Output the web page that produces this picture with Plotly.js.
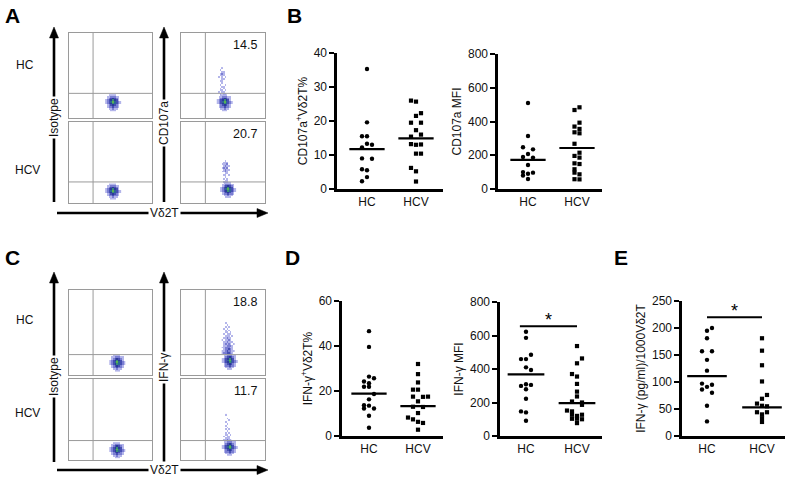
<!DOCTYPE html>
<html><head><meta charset="utf-8">
<script src="https://cdn.plot.ly/plotly-3.0.1.min.js"></script>
<style>html,body{margin:0;padding:0;background:#fff}</style>
</head><body><div id="chart" style="width:787px;height:481px"></div>
<script>
// ---------- DATA ----------
const groups = ['HC', 'HCV'];

// B: CD107a+ Vd2T %
const cd107Pct_HC = [35.3, 19.6, 15.5, 15.5, 13.3, 13.0, 12.2, 9.0, 8.9, 5.8, 5.5, 3.5, 2.3];
const cd107Pct_HC_col = [0, 0, -1, 0, 0, 1, -1, -1, 1, -1, 0, 0, -1];
const cd107Pct_HCV = [26.0, 25.7, 22.3, 21.5, 19.5, 19.5, 17.3, 16.0, 15.4, 13.2, 13.0, 13.1, 10.4, 10.4, 6.2, 5.2, 2.2];
const cd107Pct_HCV_col = [-1, 0, 1, 0, -1, 1, 0, 1, -1, -1, 0, 1, 0, 1, -1, 0, 0];
const cd107Pct_med = [11.7, 14.9];

// B: CD107a MFI
const cd107Mfi_HC = [510, 314, 247, 235, 207, 190, 186, 142, 100, 97, 90, 80, 59];
const cd107Mfi_HC_col = [0, 0, -1, 1, 0, -1, 1, 0, -1, 1, 0, -1, 0];
const cd107Mfi_HCV = [484, 468, 393, 370, 356, 336, 330, 268, 215, 196, 186, 152, 148, 117, 97, 87, 58, 57];
const cd107Mfi_HCV_col = [0.5, -0.5, 0.5, -0.5, 0.5, -0.5, 0.5, -0.5, 0.5, -0.5, 0.5, -0.5, 0.5, -0.5, -0.5, 0.5, -0.5, 0.5];
const cd107Mfi_med = [172, 243];

// D: IFN-g+ Vd2T %
const ifnPct_HC = [46.6, 39.6, 26.4, 25.7, 24.2, 23.5, 21.9, 21.9, 18.7, 16.3, 13.7, 13.5, 12.2, 12.2, 9.0, 3.7];
const ifnPct_HC_col = [0, 0, 0, 1, -1, 0, -1, 0, 1, 0, -1, 0, 1, -1, 0, 0];
const ifnPct_HCV = [32.0, 27.5, 23.8, 20.6, 20.6, 17.5, 17.4, 17.5, 15.4, 13.0, 12.9, 10.2, 8.2, 7.4, 6.3, 5.8, 2.8];
const ifnPct_HCV_col = [0, 0, 0, -1, 0, -1, 1, 2, 0, -1, 1, 0, -2, -1, 0, 1, 0];
const ifnPct_med = [18.8, 13.3];

// D: IFN-g MFI
const ifnMfi_HC = [622, 586, 485, 459, 459, 410, 394, 309, 305, 299, 279, 222, 147, 141, 91];
const ifnMfi_HC_col = [0, 0, 1, -1, 0, 0, 1, 0, 1, -1, 0, 0, -1, 0, 0];
const ifnMfi_HCV = [537, 463, 434, 370, 355, 311, 265, 236, 206, 200, 186, 152, 147, 127, 120, 127, 103, 103, 100, 77];
const ifnMfi_HCV_col = [0, 1, 0, -1, 0, 0, 0, 0, -1, 1, 1, -2, -1, -1, 0, 1, -1, 0, 1, 0];
const ifnMfi_med = [368, 196];
const ifnMfi_sig = 655;

// E: IFN-g (pg/ml)/1000 Vd2T
const ifnConc_HC = [200, 195, 181, 157, 157, 141, 121, 97, 95, 91, 86, 80, 56, 27];
const ifnConc_HC_col = [1, 0, 0, -1, 1, 0, 0, -1, 1, 0, -1, 1, 0, 0];
const ifnConc_HCV = [181, 158, 131, 101, 76, 69, 60, 56, 55, 44, 44, 40, 33, 26];
const ifnConc_HCV_col = [0, 0, 0, 0, 1, 0, -1, 0, 1, -1, 1, 0, 0, 0];
const ifnConc_med = [111, 53];
const ifnConc_sig = 220;

// Flow cytometry (A and C): gates (% of axis), population centres, density grids
const flowPercent = ['14.5', '20.7', '18.8', '11.7'];
const gateX = [29, 29, 29, 29, 29, 29, 29, 29];
const gateY = [29, 26, 29, 26, 24, 24, 24, 24];
const popX = [53, 53, 52, 56, 58, 58, 58, 58];
const popY = [18, 14, 18, 16, 14, 12, 16, 15];
const coreDensity = [
  [0,0,0,1,1,1,0,0,0],
  [0,0,1,1,2,1,1,0,0],
  [0,1,2,2,3,2,2,1,0],
  [0,1,2,3,4,3,2,1,0],
  [1,2,3,4,6,5,3,2,1],
  [1,2,3,5,7,5,3,2,1],
  [1,2,3,4,6,4,3,1,0],
  [0,1,2,3,4,3,2,1,0],
  [0,1,1,2,2,2,1,1,0],
  [0,0,1,1,1,1,0,0,0]
];
const tailA_HC = [
  [0,0,1,0,1,1,0,0],[0,1,0,1,1,0,0,0],[0,0,1,1,0,1,0,0],[0,0,1,0,1,0,0,0],[0,0,0,1,1,0,0,0],
  [0,0,1,0,0,1,0,0],[0,0,0,1,0,0,0,0],[0,0,1,1,0,0,0,0],[0,0,0,1,1,0,0,0],[0,1,0,1,0,1,0,0],
  [0,0,1,1,1,0,0,0],[0,0,1,2,1,0,0,0],[0,0,0,1,1,0,0,0],[0,0,1,0,0,0,0,0],[0,0,0,1,0,0,0,0]
];
const tailA_HCV = [
  [0,0,1,1,1,0,0,0],[0,0,0,1,1,0,0,0],[0,0,1,0,1,0,0,0],[0,0,0,1,0,0,0,0],[0,0,1,1,0,1,0,0],
  [0,0,0,1,1,0,0,0],[0,1,1,2,1,0,0,0],[0,0,1,2,1,1,0,0],[0,1,2,1,2,0,0,0],[0,0,1,2,1,1,0,0],
  [0,1,1,1,2,0,0,0],[0,0,1,1,1,0,0,0],[0,0,0,1,0,0,0,0],[0,0,0,0,0,0,0,0],[0,0,0,0,0,0,0,0]
];
const tailC_HC = [
  [1,2,2,3,3,2,1,0],[1,1,2,3,2,2,1,1],[0,1,2,2,3,2,1,0],[1,1,2,2,2,1,1,0],[0,1,1,2,2,2,1,0],
  [0,1,2,1,2,1,0,1],[0,1,1,2,1,1,1,0],[1,0,1,1,2,1,0,0],[0,1,1,2,1,1,0,0],[0,0,1,1,1,0,1,0],
  [0,1,0,1,1,1,0,0],[0,0,1,1,0,1,0,0],[0,0,1,0,1,0,0,0],[0,1,0,1,0,0,0,0],[0,0,1,0,1,0,0,0],
  [0,0,0,1,0,0,0,0],[0,0,1,0,0,0,0,0]
];
const tailC_HCV = [
  [0,1,1,2,1,1,0,0],[0,0,1,1,1,0,0,0],[0,1,0,1,1,0,0,0],[0,0,1,1,0,1,0,0],[0,0,1,0,1,0,0,0],
  [0,0,0,1,0,0,0,0],[0,0,1,0,1,0,0,0],[0,0,0,1,0,0,0,0],[0,0,1,0,0,0,0,0],[0,0,0,1,0,0,0,0],
  [0,0,1,0,0,0,0,0],[0,0,0,0,1,0,0,0],[0,0,0,1,0,0,0,0],[0,0,0,0,0,0,0,0],[0,0,1,0,0,0,0,0]
];

// ---------- LAYOUT HELPERS ----------
const W = 787, H = 481;
const PX = x => x / W;
const PY = y => 1 - y / H;
const FONT = 'Liberation Sans, Arial, sans-serif';

const traces = [];
const layout = {
  width: W, height: H,
  margin: {l: 0, r: 0, t: 0, b: 0},
  paper_bgcolor: '#fff', plot_bgcolor: 'rgba(0,0,0,0)',
  showlegend: false,
  font: {family: FONT, size: 12, color: '#111'},
  shapes: [], annotations: []
};

// scatter panels
const panels = [
  {hc: cd107Pct_HC, hcC: cd107Pct_HC_col, hcv: cd107Pct_HCV, hcvC: cd107Pct_HCV_col, med: cd107Pct_med,
   box: [337, 443, 53, 189], cat: [367, 416], ymax: 40, dtick: 10, title: 'CD107a<sup>+</sup>Vδ2T%'},
  {hc: cd107Mfi_HC, hcC: cd107Mfi_HC_col, hcv: cd107Mfi_HCV, hcvC: cd107Mfi_HCV_col, med: cd107Mfi_med,
   box: [498, 602, 54, 189], cat: [528, 577], ymax: 800, dtick: 200, title: 'CD107a MFI'},
  {hc: ifnPct_HC, hcC: ifnPct_HC_col, hcv: ifnPct_HCV, hcvC: ifnPct_HCV_col, med: ifnPct_med,
   box: [342, 443, 301, 436], cat: [369, 418], ymax: 60, dtick: 20, title: 'IFN-γ<sup>+</sup>Vδ2T%'},
  {hc: ifnMfi_HC, hcC: ifnMfi_HC_col, hcv: ifnMfi_HCV, hcvC: ifnMfi_HCV_col, med: ifnMfi_med, sig: ifnMfi_sig, sigX: [-0.12, 1.0],
   box: [500, 602, 302, 436], cat: [526, 577], ymax: 800, dtick: 200, title: 'IFN-γ MFI'},
  {hc: ifnConc_HC, hcC: ifnConc_HC_col, hcv: ifnConc_HCV, hcvC: ifnConc_HCV_col, med: ifnConc_med, sig: ifnConc_sig, sigX: [0, 1.0],
   box: [682, 785, 301, 436], cat: [707, 762], ymax: 250, dtick: 50, title: 'IFN-γ (pg/ml)/1000Vδ2T'}
];

panels.forEach((p, i) => {
  const n = i + 1;
  const xa = n === 1 ? 'x' : 'x' + n, ya = n === 1 ? 'y' : 'y' + n;
  const xk = n === 1 ? 'xaxis' : 'xaxis' + n, yk = n === 1 ? 'yaxis' : 'yaxis' + n;
  const sp = p.cat[1] - p.cat[0];
  const colW = 5 / sp;
  layout[xk] = {
    domain: [PX(p.box[0]), PX(p.box[1])], anchor: ya,
    range: [(p.box[0] - p.cat[0]) / sp, 1 + (p.box[1] - p.cat[1]) / sp],
    tickvals: [0, 1], ticktext: groups, ticks: '', showgrid: false, zeroline: false,
    showline: true, linewidth: 2.6, linecolor: '#000',
    tickfont: {size: 12, family: FONT, color: '#111'}, fixedrange: true
  };
  const tv = [];
  for (let v = 0; v <= p.ymax; v += p.dtick) tv.push(v);
  layout[yk] = {
    domain: [PY(p.box[3]), PY(p.box[2])], anchor: xa,
    range: [0, p.ymax], tickvals: tv, ticks: 'outside', ticklen: 5, tickwidth: 2, tickcolor: '#000',
    showgrid: false, zeroline: false, showline: true, linewidth: 2.6, linecolor: '#000',
    tickfont: {size: 12, family: FONT, color: '#111'},
    title: {text: p.title, font: {size: 12, family: FONT, color: '#111'}, standoff: 4}, fixedrange: true
  };
  traces.push({type: 'scatter', mode: 'markers', xaxis: xa, yaxis: ya, cliponaxis: false,
    x: p.hc.map((v, k) => 0 + p.hcC[k] * colW), y: p.hc,
    marker: {symbol: 'circle', size: 4.4, color: '#000'}, hoverinfo: 'y'});
  traces.push({type: 'scatter', mode: 'markers', xaxis: xa, yaxis: ya, cliponaxis: false,
    x: p.hcv.map((v, k) => 1 + p.hcvC[k] * colW), y: p.hcv,
    marker: {symbol: 'square', size: 4.2, color: '#000'}, hoverinfo: 'y'});
  p.med.forEach((m, g) => {
    traces.push({type: 'scatter', mode: 'lines', xaxis: xa, yaxis: ya, cliponaxis: false,
      x: [g - 0.36, g + 0.36], y: [m, m], line: {color: '#000', width: 2.2}, hoverinfo: 'skip'});
  });
  if (p.sig !== undefined) {
    traces.push({type: 'scatter', mode: 'lines', xaxis: xa, yaxis: ya, cliponaxis: false,
      x: p.sigX, y: [p.sig, p.sig], line: {color: '#000', width: 2}, hoverinfo: 'skip'});
    layout.annotations.push({xref: xa, yref: ya, x: (p.sigX[0] + p.sigX[1]) / 2, y: p.sig,
      text: '*', showarrow: false, yanchor: 'bottom', yshift: -6, font: {size: 18, family: FONT, color: '#000'}});
  }
});

// flow panels
const boxX = [[69, 152], [181, 265]];
const boxY = [[33, 118], [122, 203], [290, 375], [379, 460]];
const flowBoxes = [];
[[0, 0], [0, 1], [1, 0], [1, 1], [0, 2], [0, 3], [1, 2], [1, 3]].forEach(([c, r]) => flowBoxes.push({x: boxX[c], y: boxY[r]}));
const tails = [null, null, tailA_HC, tailA_HCV, null, null, tailC_HC, tailC_HCV];
const cs = [[0, 'rgba(255,255,255,0)'], [0.06, 'rgba(255,255,255,0)'], [0.07, 'rgba(165,168,232,0.6)'],
  [0.2, 'rgba(115,118,212,0.8)'], [0.35, '#4a52b8'], [0.5, '#2a3c96'], [0.65, '#2d6f92'], [0.8, '#3f9a6a'], [0.9, '#62b848'], [1, '#c8d040']];

flowBoxes.forEach((b, i) => {
  const n = i + 6;
  const xa = 'x' + n, ya = 'y' + n;
  layout['xaxis' + n] = {domain: [PX(b.x[0]), PX(b.x[1])], anchor: ya, range: [0, 100],
    showline: true, mirror: true, linecolor: '#9a9a9a', linewidth: 1, ticks: '', showticklabels: false,
    showgrid: false, zeroline: false, fixedrange: true};
  layout['yaxis' + n] = {domain: [PY(b.y[1]), PY(b.y[0])], anchor: xa, range: [0, 100],
    showline: true, mirror: true, linecolor: '#9a9a9a', linewidth: 1, ticks: '', showticklabels: false,
    showgrid: false, zeroline: false, fixedrange: true};
  layout.shapes.push({type: 'line', xref: xa, yref: ya, x0: gateX[i], x1: gateX[i], y0: 0, y1: 100, line: {color: '#9a9a9a', width: 1}});
  layout.shapes.push({type: 'line', xref: xa, yref: ya, x0: 0, x1: 100, y0: gateY[i], y1: gateY[i], line: {color: '#9a9a9a', width: 1}});
  const dx = 2.1, dy = 2.0;
  traces.push({type: 'heatmap', xaxis: xa, yaxis: ya, z: coreDensity,
    x0: popX[i] - 4 * dx, dx: dx, y0: popY[i] - 4.5 * dy, dy: dy,
    colorscale: cs, zmin: 0, zmax: 8, showscale: false, hoverinfo: 'skip', zsmooth: false});
  if (tails[i]) {
    const t = tails[i];
    traces.push({type: 'heatmap', xaxis: xa, yaxis: ya, z: t,
      x0: popX[i] - 2 - 3.5 * 1.9, dx: 1.9, y0: popY[i] + 10, dy: 2.2,
      colorscale: cs, zmin: 0, zmax: 8, showscale: false, hoverinfo: 'skip', zsmooth: false});
  }
});

// flow percentages
[[2, 0], [3, 1], [6, 2], [7, 3]].forEach(([bi, k]) => {
  const b = flowBoxes[bi];
  layout.annotations.push({xref: 'paper', yref: 'paper', x: PX(b.x[1] - 6), y: PY(b.y[0] + 12),
    text: flowPercent[k], showarrow: false, xanchor: 'right', yanchor: 'middle', font: {size: 12.5, family: FONT, color: '#111'}});
});

// arrows as shapes
function vArrow(x, yTip, yEnd) {
  layout.shapes.push({type: 'line', xref: 'paper', yref: 'paper', x0: PX(x), x1: PX(x), y0: PY(yEnd), y1: PY(yTip + 9), line: {color: '#000', width: 2.6}});
  layout.shapes.push({type: 'path', xref: 'paper', yref: 'paper',
    path: `M ${PX(x)} ${PY(yTip)} L ${PX(x - 4.5)} ${PY(yTip + 11)} L ${PX(x + 4.5)} ${PY(yTip + 11)} Z`,
    fillcolor: '#000', line: {color: '#000', width: 0.5}});
}
function hArrow(y, xStart, xTip) {
  layout.shapes.push({type: 'line', xref: 'paper', yref: 'paper', x0: PX(xStart), x1: PX(xTip - 9), y0: PY(y), y1: PY(y), line: {color: '#000', width: 2.6}});
  layout.shapes.push({type: 'path', xref: 'paper', yref: 'paper',
    path: `M ${PX(xTip)} ${PY(y)} L ${PX(xTip - 11)} ${PY(y - 4.5)} L ${PX(xTip - 11)} ${PY(y + 4.5)} Z`,
    fillcolor: '#000', line: {color: '#000', width: 0.5}});
}
function label(x, y, text, angle, bg) {
  layout.annotations.push({xref: 'paper', yref: 'paper', x: PX(x), y: PY(y), text: text, showarrow: false,
    textangle: angle || 0, bgcolor: bg ? '#fff' : 'rgba(0,0,0,0)', borderpad: 1,
    xanchor: 'center', yanchor: 'middle', font: {size: 12, family: FONT, color: '#111'}});
}
// A
vArrow(54, 27, 202); label(54, 118, 'Isotype', -90, true);
vArrow(164, 27, 202); label(164, 123, 'CD107a', -90, true);
hArrow(213, 57, 268); label(164, 213, 'Vδ2T', 0, true);
label(25, 65, 'HC'); label(27, 170, 'HCV');
// C
vArrow(54, 272, 462); label(54, 377, 'Isotype', -90, true);
vArrow(164, 272, 462); label(164, 368, 'IFN-γ', -90, true);
hArrow(470, 57, 268); label(164, 470, 'Vδ2T', 0, true);
label(25, 320, 'HC'); label(27, 413, 'HCV');

// panel letters
[['A', 12, 15], ['B', 294, 15], ['C', 12, 257], ['D', 292, 257], ['E', 621, 257]].forEach(([t, x, y]) => {
  layout.annotations.push({xref: 'paper', yref: 'paper', x: PX(x), y: PY(y), text: '<b>' + t + '</b>', showarrow: false,
    xanchor: 'center', yanchor: 'middle', font: {size: 21, family: FONT, color: '#000'}});
});

Plotly.newPlot('chart', traces, layout, {staticPlot: true, displayModeBar: false});
</script></body></html>
